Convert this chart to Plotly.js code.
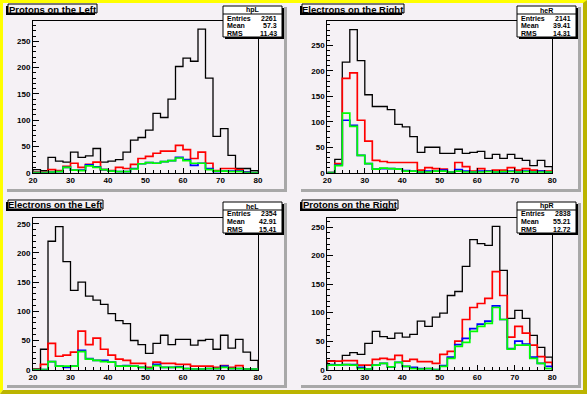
<!DOCTYPE html>
<html><head><meta charset="utf-8">
<script src="https://cdn.plot.ly/plotly-3.0.1.min.js"></script>
<style>html,body{margin:0;padding:0;background:#f5f1f5}</style>
</head><body>
<div id="c" style="width:587px;height:394px"></div>
<script>
// ---- data: bin contents, 30 bins of width 2 from 20 to 80 ----
const binLow = 20, binWidth = 2, nBins = 30;

// Pad 1: Protons on the Left
const pL_all   = [6,4,29,22,20,39,29,32,46,20,22,25,39,62,67,81,113,105,140,202,218,212,273,180,69,84,33,8,8,4];
const pL_red   = [1,1,6,4,12,18,10,16,20,6,4,10,8,16,27,31,37,41,41,52,44,27,39,18,4,8,8,6,1,0];
const pL_blue  = [0,0,1,2,10,5,5,15,11,6,3,2,2,8,17,19,18,21,23,29,25,14,18,8,2,3,3,3,1,0];
const pL_green = [0,0,1,2,10,5,4,13,10,6,3,2,2,7,17,19,18,21,23,28,23,18,18,6,3,3,2,2,0,0];

// Pad 2: Electrons on the Right
const eR_all   = [0,26,217,281,220,153,130,130,124,95,90,71,40,50,50,38,38,46,38,40,42,28,36,28,36,28,24,14,24,12];
const eR_red   = [0,18,185,196,103,62,24,22,20,20,20,20,5,10,8,7,1,20,12,3,8,3,5,5,10,5,8,5,3,3];
const eR_blue  = [0,15,103,93,34,18,7,8,8,7,4,3,1,3,3,5,1,6,3,1,3,3,1,1,3,1,3,1,3,1];
const eR_green = [0,14,117,91,34,18,7,9,8,7,3,3,1,1,3,3,1,3,1,1,1,2,1,2,2,1,2,1,1,1];

// Pad 3: Electrons on the Left
const eL_all   = [2,35,220,245,185,136,150,126,119,112,96,84,79,50,43,28,45,59,43,52,52,42,50,52,35,59,37,52,30,16];
const eL_red   = [1,9,45,23,25,30,66,43,54,35,25,18,16,11,11,4,13,11,11,9,9,6,6,6,4,7,4,7,1,1];
const eL_blue  = [0,0,14,6,4,6,33,19,16,16,13,6,7,6,4,2,9,4,4,5,2,1,1,2,2,6,2,2,1,1];
const eL_green = [0,0,14,6,6,6,31,18,16,14,13,6,6,6,4,2,7,4,4,4,2,1,1,2,2,4,2,2,1,1];

// Pad 4: Protons on the Right
const pR_all   = [16,8,25,30,27,46,67,58,55,64,57,62,85,76,92,99,130,137,181,228,221,218,251,174,90,104,90,60,39,22];
const pR_red   = [15,15,16,16,8,8,18,20,18,25,15,18,14,14,11,27,32,50,88,109,116,125,172,130,57,76,64,43,23,13];
const pR_blue  = [9,8,9,9,4,1,8,11,5,13,6,4,2,2,0,7,22,44,55,72,80,85,112,88,37,50,45,22,11,6];
const pR_green = [8,8,9,8,2,1,8,11,5,13,6,2,1,2,0,6,20,41,48,67,76,81,109,88,36,43,43,20,11,2];

// pad titles and statistics boxes
const padTitles = ["Protons on the Left","Electrons on the Right","Electrons on the Left","Protons on the Right"];
const statNames = ["hpL","heR","heL","hpR"];
const statEntries = ["2261","2141","2354","2838"];
const statMean = ["57.3","39.41","42.91","55.21"];
const statRMS = ["11.43","14.31","15.41","12.72"];

// ---- geometry helpers (pixels -> paper) ----
const W = 587, H = 394;
const px = x => x / W, py = y => 1 - y / H;

function stepXY(vals){
  const x = [binLow], y = [0];
  for (let i = 0; i < vals.length; i++){ x.push(binLow + i*binWidth); y.push(vals[i]); }
  x.push(binLow + vals.length*binWidth); y.push(0);
  return {x, y};
}

const pads = [
  {sets:[pL_all,pL_red,pL_blue,pL_green], fx:[33,258],  fy:[21,172.7],  ymax:288.6, pad:[4,4,284,189]},
  {sets:[eR_all,eR_red,eR_blue,eR_green], fx:[327.3,552.3], fy:[21,172.7], ymax:297.8, pad:[298,4,578,189]},
  {sets:[eL_all,eL_red,eL_blue,eL_green], fx:[33,258],  fy:[218,369.7], ymax:259.8, pad:[4,200,284,385]},
  {sets:[pR_all,pR_red,pR_blue,pR_green], fx:[327.3,552.3], fy:[218,369.7], ymax:265.8, pad:[298,200,578,385]}
];
const colors = ['#000000','#ff0000','#0000ff','#00ff00'];
const widths = [1.3,1.7,1.7,1.7];

const traces = [];
const layout = {
  width: W, height: H, margin:{l:0,r:0,t:0,b:0},
  paper_bgcolor:'#f5f1f5', plot_bgcolor:'rgba(0,0,0,0)',
  showlegend:false, shapes:[], annotations:[]
};
const fontFam = 'Liberation Sans, Arial, sans-serif';

pads.forEach((p, k) => {
  const xa = 'xaxis' + (k ? k+1 : ''), ya = 'yaxis' + (k ? k+1 : '');
  const xr = 'x' + (k ? k+1 : ''), yr = 'y' + (k ? k+1 : '');
  const [L,T,R,B] = p.pad;
  // pad shadow
  layout.shapes.push({type:'rect', xref:'paper', yref:'paper', layer:'below',
    x0:px(L+3), x1:px(R+3), y0:py(B+3), y1:py(T+3), fillcolor:'#a8a8a8', line:{width:0}});
  layout.shapes.push({type:'rect', xref:'paper', yref:'paper', layer:'below',
    x0:px(L), x1:px(R), y0:py(B), y1:py(T), fillcolor:'#f5f1f5', line:{width:0}});

  p.sets.forEach((vals, j) => {
    const s = stepXY(vals);
    traces.push({type:'scatter', mode:'lines', x:s.x, y:s.y, xaxis:xr, yaxis:yr,
      line:{color:colors[j], width:widths[j], shape:'hv'}, hoverinfo:'skip', cliponaxis:true});
  });
  layout[xa] = {domain:[px(p.fx[0]), px(p.fx[1])], anchor:yr, range:[20,80],
    tick0:20, dtick:10, ticks:'inside', ticklen:5, tickcolor:'#000', tickwidth:1,
    minor:{dtick:2, ticks:'inside', ticklen:2.5, tickcolor:'#000'},
    showline:true, mirror:true, linecolor:'#000', linewidth:1, showgrid:false, zeroline:false,
    tickfont:{family:fontFam, size:8, color:'#000', weight:'bold'}, fixedrange:true};
  layout[ya] = {domain:[py(p.fy[1]), py(p.fy[0])], anchor:xr, range:[0,p.ymax],
    tick0:0, dtick:50, ticks:'inside', ticklen:6, tickcolor:'#000', tickwidth:1,
    minor:{dtick:10, ticks:'inside', ticklen:3, tickcolor:'#000'},
    showline:true, mirror:true, linecolor:'#000', linewidth:1, showgrid:false, zeroline:false,
    tickfont:{family:fontFam, size:8, color:'#000', weight:'bold'}, fixedrange:true};

  // title box
  const tx0 = L+4, ty0 = T, tw = [89,102,95,96][k], th = 9;
  layout.shapes.push({type:'rect', xref:'paper', yref:'paper',
    x0:px(tx0-2), x1:px(tx0+tw-2), y0:py(ty0+th+2), y1:py(ty0+2), fillcolor:'#000', line:{width:0}});
  layout.shapes.push({type:'rect', xref:'paper', yref:'paper',
    x0:px(tx0), x1:px(tx0+tw), y0:py(ty0+th), y1:py(ty0), fillcolor:'#f5f1f5', line:{color:'#000', width:1}});
  layout.annotations.push({xref:'paper', yref:'paper', x:px(tx0+tw/2), y:py(ty0+th/2+0.5),
    text:'<b>'+padTitles[k]+'</b>', showarrow:false, xanchor:'center', yanchor:'middle',
    font:{family:fontFam, size:9.5, color:'#000'}});

  // stats box
  const sx0 = R-61, sx1 = R-2, sy0 = T+2, sy1 = T+33;
  layout.shapes.push({type:'rect', xref:'paper', yref:'paper',
    x0:px(sx0+2), x1:px(sx1+2), y0:py(sy1+2), y1:py(sy0+2), fillcolor:'#000', line:{width:0}});
  layout.shapes.push({type:'rect', xref:'paper', yref:'paper',
    x0:px(sx0), x1:px(sx1), y0:py(sy1), y1:py(sy0), fillcolor:'#ffffff', line:{color:'#000', width:1}});
  layout.shapes.push({type:'line', xref:'paper', yref:'paper',
    x0:px(sx0), x1:px(sx1), y0:py(sy0+8), y1:py(sy0+8), line:{color:'#000', width:1}});
  const sf = {family:fontFam, size:7, color:'#000'};
  layout.annotations.push({xref:'paper', yref:'paper', x:px((sx0+sx1)/2), y:py(sy0+4.2), text:'<b>'+statNames[k]+'</b>',
    showarrow:false, xanchor:'center', yanchor:'middle', font:sf});
  [['Entries',statEntries[k]],['Mean',statMean[k]],['RMS',statRMS[k]]].forEach((r,i)=>{
    const yy = py(sy0+12+i*7.7);
    layout.annotations.push({xref:'paper', yref:'paper', x:px(sx0+2), y:yy, text:'<b>'+r[0]+'</b>',
      showarrow:false, xanchor:'left', yanchor:'middle', font:sf});
    layout.annotations.push({xref:'paper', yref:'paper', x:px(sx1-3), y:yy, text:'<b>'+r[1]+'</b>',
      showarrow:false, xanchor:'right', yanchor:'middle', font:sf});
  });
});

// canvas bevel: yellow top/left, olive bottom/right
layout.shapes.push({type:'path', xref:'paper', yref:'paper', layer:'above',
  path:`M0,1 L1,1 L${px(W-3)},${py(3)} L${px(3)},${py(3)} L${px(3)},${py(H-4)} L0,0 Z`,
  fillcolor:'#ffff00', line:{width:0}});
layout.shapes.push({type:'path', xref:'paper', yref:'paper', layer:'above',
  path:`M1,1 L1,0 L0,0 L${px(3)},${py(H-4)} L${px(W-4)},${py(H-4)} L${px(W-4)},${py(3)} Z`,
  fillcolor:'#bbb400', line:{width:0}});

Plotly.newPlot('c', traces, layout, {staticPlot:true, displayModeBar:false});
</script>
</body></html>
